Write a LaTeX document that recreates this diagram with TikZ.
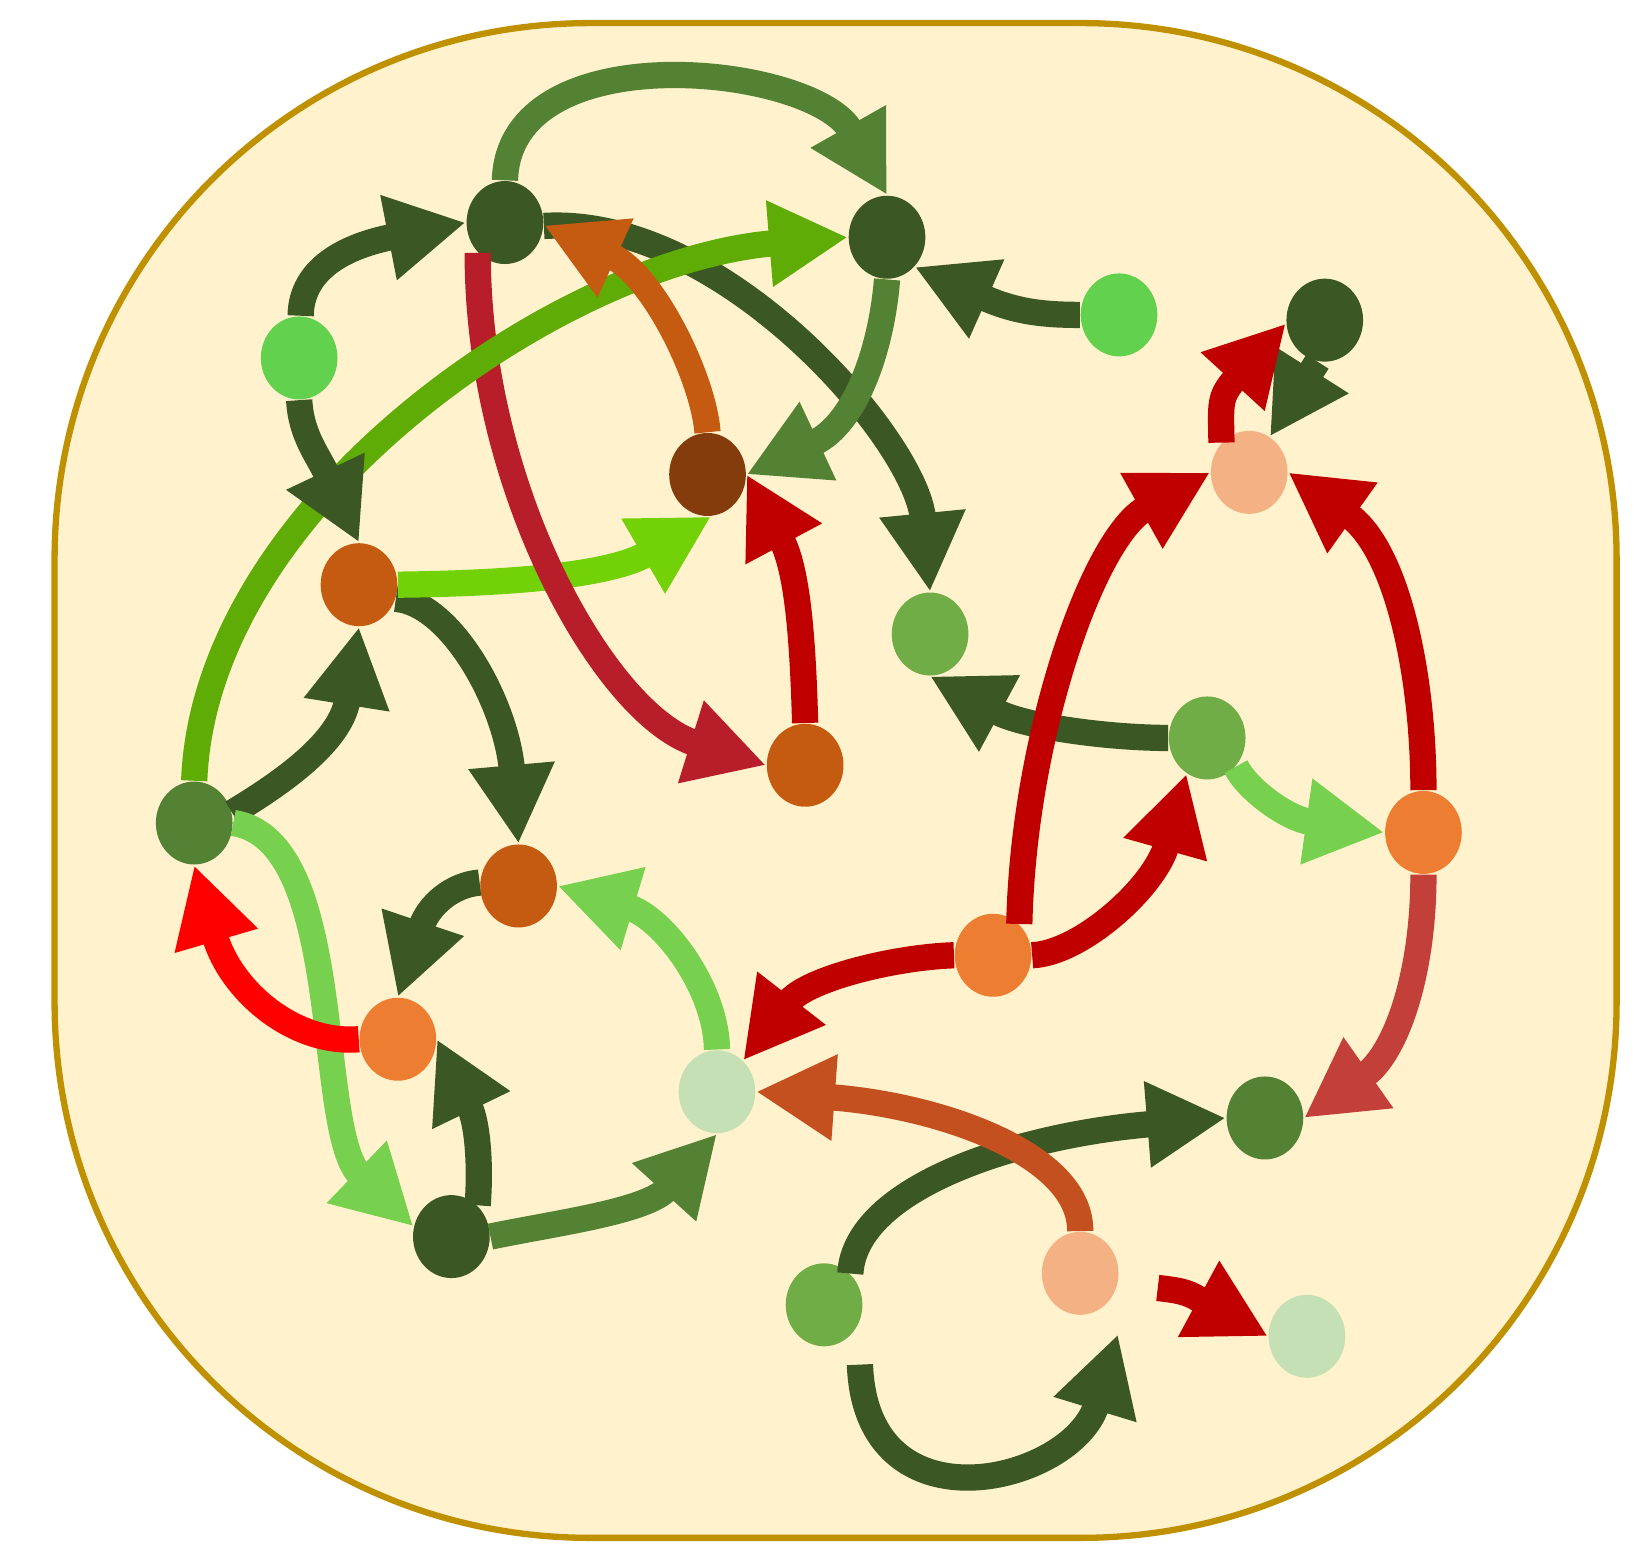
\documentclass[tikz,border=0pt]{standalone}
\usepackage{tikz}
\usetikzlibrary{arrows.meta,shapes.geometric}
\definecolor{paper}{HTML}{FFF2CC}
\definecolor{frame}{HTML}{BF9000}
\definecolor{leafdark}{HTML}{3A5724}
\definecolor{leafmid}{HTML}{548235}
\definecolor{leafsoft}{HTML}{70AD47}
\definecolor{leafpale}{HTML}{C5E0B4}
\definecolor{leafbright}{HTML}{62D24E}
\definecolor{leaflight}{HTML}{77D14F}
\definecolor{leafolive}{HTML}{5FAC06}
\definecolor{leaflime}{HTML}{73D107}
\definecolor{peach}{HTML}{F4B183}
\definecolor{ember}{HTML}{ED7D31}
\definecolor{rust}{HTML}{C55A11}
\definecolor{bark}{HTML}{843C0C}
\definecolor{crimson}{HTML}{B71E29}
\definecolor{blood}{HTML}{C00000}
\definecolor{signal}{HTML}{FF0000}
\definecolor{brick}{HTML}{C33F3A}
\definecolor{clay}{HTML}{C5501F}

\begin{document}
\begin{tikzpicture}[
  x=0.01cm,y=-0.01cm,
  vertex/.style={ellipse,minimum width=0.73cm,minimum height=0.79cm,inner sep=0pt},
  link/.style={line width=0.25cm,-{Triangle[length=0.75cm,width=0.77cm]}}
]
\useasboundingbox (0,0) rectangle (1568,1486);
% FRAME
\draw[line width=0.06cm,draw=frame,fill=paper,rounded corners=5.1cm] (52,22) rectangle (1540,1465);

% NODES
\node[vertex,fill=leafdark] (a) at (481,212) {};
\node[vertex,fill=leafdark] (b) at (845,226) {};
\node[vertex,fill=leafbright] (c) at (1066,300) {};
\node[vertex,fill=leafdark] (d) at (1262,305) {};
\node[vertex,fill=leafbright] (e) at (285,341) {};
\node[vertex,fill=bark] (f) at (674,452) {};
\node[vertex,fill=peach] (g) at (1190,450) {};
\node[vertex,fill=rust] (h) at (342,557) {};
\node[vertex,fill=leafsoft] (i) at (886,604) {};
\node[vertex,fill=leafsoft] (j) at (1150,703) {};
\node[vertex,fill=rust] (k) at (767,729) {};
\node[vertex,fill=leafmid] (l) at (185,784) {};
\node[vertex,fill=ember] (m) at (1356,793) {};
\node[vertex,fill=rust] (n) at (494,844) {};
\node[vertex,fill=ember] (o) at (946,910) {};
\node[vertex,fill=ember] (p) at (379,990) {};
\node[vertex,fill=leafpale] (q) at (683,1040) {};
\node[vertex,fill=leafmid] (r) at (1205,1065) {};
\node[vertex,fill=leafdark] (s) at (430,1178) {};
\node[vertex,fill=leafsoft] (t) at (785,1243) {};
\node[vertex,fill=peach] (u) at (1029,1213) {};
\node[vertex,fill=leafpale] (v) at (1245,1273) {};
\coordinate (tloop) at (1065,1271);

% dark green links
\draw[link,leafdark] (a.-5) .. controls (690,205) and (872,420) .. (i.north);
\draw[link,leafdark] (c.west) .. controls (990,300) and (965,296) .. (b.-47);
\draw[link,leafdark] (d.-100) -- (g.60);
\draw[link,leafdark] (l.15) .. controls (258,752) and (324,710) .. (h.south);
\draw[link,leafdark] (h.-21) .. controls (430,575) and (482,670) .. (n.north);
\draw[link,leafdark] (j.west) .. controls (1060,703) and (977,693) .. (i.south);
\draw[link,leafdark] (n.175) .. controls (430,843) and (408,863) .. (p.north);
\draw[link,leafdark] (s.50) .. controls (458,1110) and (455,1070) .. (p.east);
\draw[link,leafdark] (t.50) .. controls (815,1130) and (972,1081) .. (r.west);
\draw[link,leafdark,shorten <=0.38cm] (t.-30) .. controls (825,1462) and (1022,1412) .. (tloop);

% mid green links
\draw[link,leafmid] (a.north) .. controls (485,30) and (775,62) .. (b.north);
\draw[link,leafmid] (b.south) .. controls (840,330) and (816,403) .. (f.east);
\draw[link,leafmid] (s.east) .. controls (530,1165) and (616,1154) .. (q.south);

% lime, crimson, olive
\draw[link,leaflime] (h.east) .. controls (470,556) and (578,550) .. (f.-85);
\draw[link,crimson] (a.-132) .. controls (455,470) and (579,682) .. (k.west);
\draw[link,leafolive] (l.north) .. controls (195,480) and (536,248) .. (b.west);
\draw[link,leafdark] (e.88) .. controls (287,255) and (331,234) .. (a.west);
\draw[link,leafdark] (e.south) .. controls (287,415) and (302,432) .. (h.north);
\draw[link,rust] (f.north) .. controls (670,360) and (622,262) .. (a.-4);

% light green links
\draw[link,leaflight] (l.east) .. controls (330,800) and (300,1078) .. (s.165);
\draw[link,leaflight] (j.-45) .. controls (1188,752) and (1226,780) .. (m.west);
\draw[link,leaflight] (q.north) .. controls (682,940) and (631,874) .. (n.east);

% red links
\draw[link,blood] (g.133) .. controls (1163,385) and (1161,378) .. (d.185);
\draw[link,blood] (o.50) .. controls (975,700) and (1042,512) .. (g.west);
\draw[link,blood] (m.north) .. controls (1356,640) and (1330,523) .. (g.east);
\draw[link,blood] (k.north) .. controls (765,620) and (761,545) .. (f.east);
\draw[link,blood] (o.east) .. controls (1030,908) and (1100,845) .. (j.-120);
\draw[link,signal] (p.west) .. controls (280,995) and (220,944) .. (l.south);
\draw[link,blood] (o.west) .. controls (850,912) and (768,933) .. (q.50);
\draw[link,blood,shorten <=0.38cm] (u.-15) .. controls (1130,1230) and (1132,1232) .. (v.west);
\draw[link,brick] (m.south) .. controls (1356,930) and (1329,1004) .. (r.east);
\draw[link,clay] (u.north) .. controls (1030,1100) and (896,1053) .. (q.east);
\end{tikzpicture}
\end{document}
